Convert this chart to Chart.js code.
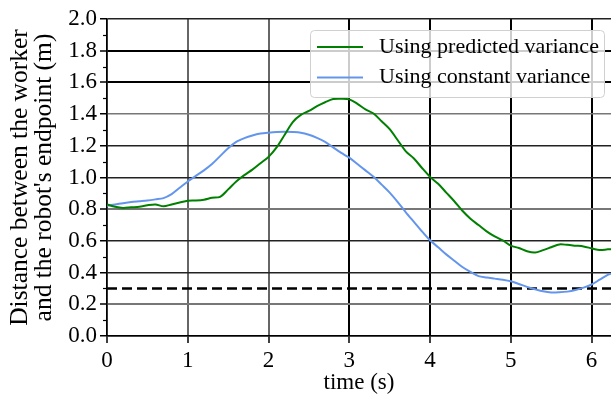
<!DOCTYPE html>
<html>
<head>
<meta charset="utf-8">
<script src="https://cdn.jsdelivr.net/npm/chart.js@4.4.1/dist/chart.umd.min.js"></script>
<style>
  html, body { margin: 0; padding: 0; background: #fff; overflow: hidden; }
  #wrap { width: 611px; height: 398px; }
</style>
</head>
<body>
<div id="wrap"><canvas id="distChart" width="611" height="398"></canvas></div>
<script>
// time axis (s)
const times = [0.0, 0.1, 0.2, 0.3, 0.4, 0.5, 0.6, 0.7, 0.8, 0.9,
    1.0, 1.1, 1.2, 1.3, 1.4, 1.5, 1.6, 1.7, 1.8, 1.9,
    2.0, 2.1, 2.2, 2.3, 2.4, 2.5, 2.6, 2.7, 2.8, 2.9,
    3.0, 3.1, 3.2, 3.3, 3.4, 3.5, 3.6, 3.7, 3.8, 3.9,
    4.0, 4.1, 4.2, 4.3, 4.4, 4.5, 4.6, 4.7, 4.8, 4.9,
    5.0, 5.1, 5.2, 5.3, 5.4, 5.5, 5.6, 5.7, 5.8, 5.9,
    6.0, 6.1, 6.2, 6.25];

// distance using predicted variance (m)
const predictedDist = [0.830, 0.815, 0.808, 0.812, 0.815, 0.825, 0.830, 0.818, 0.830, 0.842,
    0.853, 0.855, 0.860, 0.872, 0.878, 0.925, 0.975, 1.015, 1.050, 1.090,
    1.130, 1.190, 1.270, 1.350, 1.395, 1.420, 1.450, 1.475, 1.495, 1.497,
    1.493, 1.465, 1.430, 1.404, 1.355, 1.305, 1.235, 1.165, 1.120, 1.060,
    1.004, 0.960, 0.905, 0.850, 0.790, 0.740, 0.700, 0.660, 0.628, 0.603,
    0.570, 0.555, 0.535, 0.527, 0.542, 0.560, 0.578, 0.575, 0.570, 0.565,
    0.553, 0.542, 0.547, 0.548];

// distance using constant variance (m)
const constantDist = [0.822, 0.830, 0.838, 0.845, 0.850, 0.855, 0.862, 0.870, 0.895, 0.935,
    0.975, 1.010, 1.045, 1.085, 1.135, 1.185, 1.225, 1.248, 1.265, 1.277,
    1.283, 1.287, 1.288, 1.287, 1.283, 1.270, 1.250, 1.225, 1.190, 1.155,
    1.125, 1.085, 1.045, 1.004, 0.955, 0.905, 0.845, 0.780, 0.720, 0.660,
    0.604, 0.560, 0.515, 0.475, 0.435, 0.404, 0.378, 0.369, 0.362, 0.355,
    0.345, 0.328, 0.310, 0.295, 0.282, 0.275, 0.276, 0.280, 0.290, 0.305,
    0.325, 0.355, 0.385, 0.395];

// safety distance threshold
const thresholdTimes = [0, 6.25];
const thresholdDist = [0.3, 0.3];

const seriesLabels = ['Using predicted variance', 'Using constant variance'];
const seriesColors = ['#008000', '#6495ED'];

const toPoints = (xs, ys) => xs.map((x, i) => ({ x: x, y: ys[i] }));

const serif = "'Liberation Serif', 'Times New Roman', serif";

// minor ticks on y axis + legend box like matplotlib
const extrasPlugin = {
    id: 'extras',
    afterDraw(chart) {
        const ctx = chart.ctx;
        const y = chart.scales.y;
        const left = chart.chartArea.left;
        ctx.save();
        ctx.strokeStyle = '#000';
        ctx.lineWidth = 1.2;
        for (let v = 0.1; v < 2.0; v += 0.2) {
            const py = Math.round(y.getPixelForValue(v)) + 0.5;
            ctx.beginPath();
            ctx.moveTo(left - 4, py);
            ctx.lineTo(left, py);
            ctx.stroke();
        }

        // legend
        const bx = 310, by = 30, bw = 294, bh = 67;
        ctx.fillStyle = 'rgba(255,255,255,0.8)';
        ctx.strokeStyle = '#d0d0d0';
        ctx.lineWidth = 1;
        ctx.beginPath();
        ctx.roundRect(bx + 0.5, by + 0.5, bw, bh, 4);
        ctx.fill();
        ctx.stroke();
        ctx.font = '22px ' + serif;
        ctx.textBaseline = 'middle';
        seriesLabels.forEach((lbl, i) => {
            const ly = 47 + i * 30.5;
            ctx.strokeStyle = seriesColors[i];
            ctx.lineWidth = 2;
            ctx.beginPath();
            ctx.moveTo(317, ly);
            ctx.lineTo(363, ly);
            ctx.stroke();
            ctx.fillStyle = '#000';
            ctx.fillText(lbl, 379, ly);
        });
        ctx.restore();
    }
};

const ctx = document.getElementById('distChart').getContext('2d');
const distChart = new Chart(ctx, {
    type: 'line',
    data: {
        datasets: [
            {
                label: seriesLabels[0],
                data: toPoints(times, predictedDist),
                borderColor: seriesColors[0],
                borderWidth: 2,
                pointRadius: 0,
                tension: 0.3
            },
            {
                label: seriesLabels[1],
                data: toPoints(times, constantDist),
                borderColor: seriesColors[1],
                borderWidth: 2,
                pointRadius: 0,
                tension: 0.3
            },
            {
                label: 'threshold',
                data: toPoints(thresholdTimes, thresholdDist),
                borderColor: '#000',
                borderWidth: 2.5,
                borderDash: [10, 5],
                pointRadius: 0
            }
        ]
    },
    options: {
        responsive: false,
        animation: false,
        layout: { padding: { top: 19, right: 0, left: 0, bottom: 0 } },
        plugins: {
            legend: { display: false },
            tooltip: { enabled: false }
        },
        scales: {
            x: {
                type: 'linear',
                min: 0,
                max: 6.24,
                afterFit: function (scale) { scale.height = 62; },
                border: { color: '#000', width: 1.5 },
                grid: {
                    color: function (c) { return c.tick && c.tick.value <= 2 ? '#666' : '#000'; },
                    lineWidth: 2,
                    tickLength: 7,
                    tickColor: '#000',
                    tickWidth: 1.5
                },
                ticks: {
                    stepSize: 1,
                    includeBounds: false,
                    color: '#000',
                    padding: 4,
                    font: { family: serif, size: 23 },
                    maxRotation: 0
                },
                title: {
                    display: true,
                    text: 'time (s)',
                    color: '#000',
                    font: { family: serif, size: 23 },
                    padding: { top: 0, bottom: 1 }
                }
            },
            y: {
                min: 0,
                max: 2.0,
                afterFit: function (scale) { scale.width = 107; },
                border: { color: '#000', width: 1.5 },
                grid: {
                    color: function (c) {
                        const v = c.tick ? Math.round(c.tick.value * 10) / 10 : 0;
                        if (v === 1.6 || v === 1.8) return '#000';
                        if (v === 0.2 || v === 0.8 || v === 1.4) return '#777';
                        return '#222';
                    },
                    lineWidth: function (c) {
                        const v = c.tick ? Math.round(c.tick.value * 10) / 10 : 0;
                        return (v === 1.6 || v === 1.8 || v === 0.2 || v === 0.8) ? 2 : 1.5;
                    },
                    tickLength: 7,
                    tickColor: '#000',
                    tickWidth: 1.5
                },
                ticks: {
                    stepSize: 0.2,
                    color: '#000',
                    padding: 3,
                    font: { family: serif, size: 23 },
                    callback: function (value) { return value.toFixed(1); }
                },
                title: {
                    display: true,
                    text: ['Distance between the worker', "and the robot's endpoint (m)"],
                    color: '#000',
                    font: { family: serif, size: 25.5, lineHeight: 0.94 },
                    padding: { top: 8, bottom: 0 }
                }
            }
        }
    },
    plugins: [extrasPlugin]
});
</script>
</body>
</html>
